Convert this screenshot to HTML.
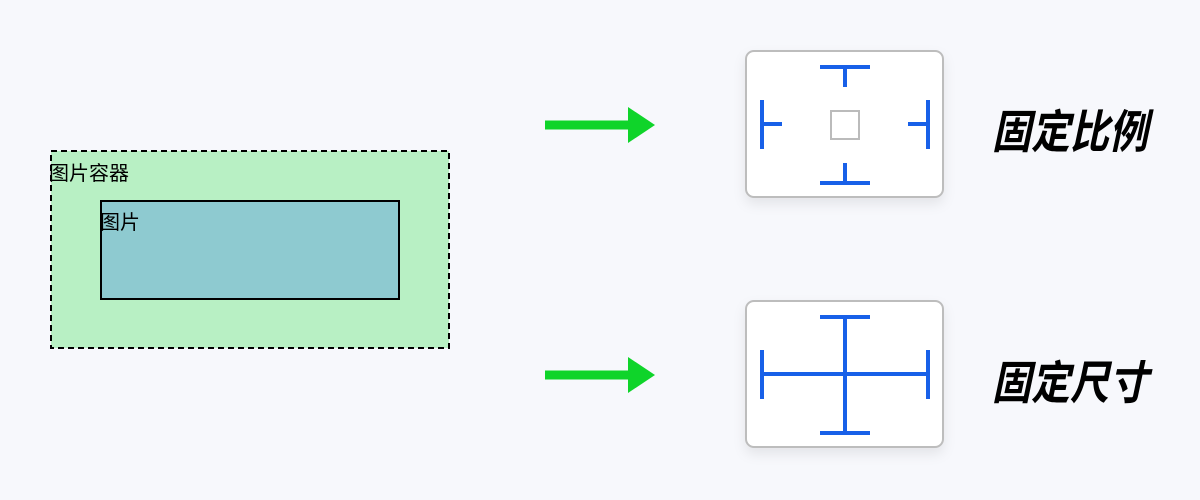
<!DOCTYPE html>
<html><head><meta charset="utf-8"><style>
html,body{margin:0;padding:0;background:#f7f8fc;}
svg{display:block}
</style></head><body>
<svg width="1200" height="500" xmlns="http://www.w3.org/2000/svg">
<defs><filter id="sh" x="-20%" y="-20%" width="140%" height="150%"><feDropShadow dx="0" dy="6" stdDeviation="6" flood-color="#000" flood-opacity="0.08"/></filter></defs>
<rect x="0" y="0" width="1200" height="500" fill="#f7f8fc"/>
<rect x="51" y="151" width="398" height="197" fill="#b8f0c4" stroke="#000" stroke-width="2" stroke-dasharray="6,4"/>
<rect x="101" y="201" width="298" height="98" fill="#8ecad0" stroke="#000" stroke-width="2"/>
<text x="49" y="180" font-family="'Liberation Sans','Noto Sans CJK SC',sans-serif" font-size="20" fill="#000" textLength="80" lengthAdjust="spacingAndGlyphs">图片容器</text>
<text x="100" y="229" font-family="'Liberation Sans','Noto Sans CJK SC',sans-serif" font-size="20" fill="#000" textLength="40" lengthAdjust="spacingAndGlyphs">图片</text>
<g fill="#0fd42a">
<rect x="545" y="120.5" width="85" height="9"/><polygon points="628,107 655,125 628,143"/>
<rect x="545" y="370.5" width="85" height="9"/><polygon points="628,357 655,375 628,393"/>
</g>
<rect x="746" y="51" width="197" height="146" rx="8" fill="#fff" stroke="#bdbdbd" stroke-width="2" filter="url(#sh)"/>
<rect x="746" y="301" width="197" height="146" rx="8" fill="#fff" stroke="#bdbdbd" stroke-width="2" filter="url(#sh)"/>
<g stroke="#1860e8" stroke-width="4" fill="none">
<path d="M820 67H870M845 67V87M820 183H870M845 183V163M762 100V149M762 124H782M928 100V149M928 124H908"/>
<path d="M820 317H870M820 433H870M845 317V433M762 350V399M928 350V399M762 374H928"/>
</g>
<rect x="831" y="111" width="28" height="28" fill="none" stroke="#bbb" stroke-width="2"/>
<g font-family="'Liberation Sans','Noto Sans CJK SC',sans-serif" font-size="46" font-weight="bold" font-style="italic" fill="#000">
<text x="992" y="148" textLength="156" lengthAdjust="spacingAndGlyphs">固定比例</text>
<text x="992" y="399" textLength="156" lengthAdjust="spacingAndGlyphs">固定尺寸</text>
</g>
</svg>
</body></html>
